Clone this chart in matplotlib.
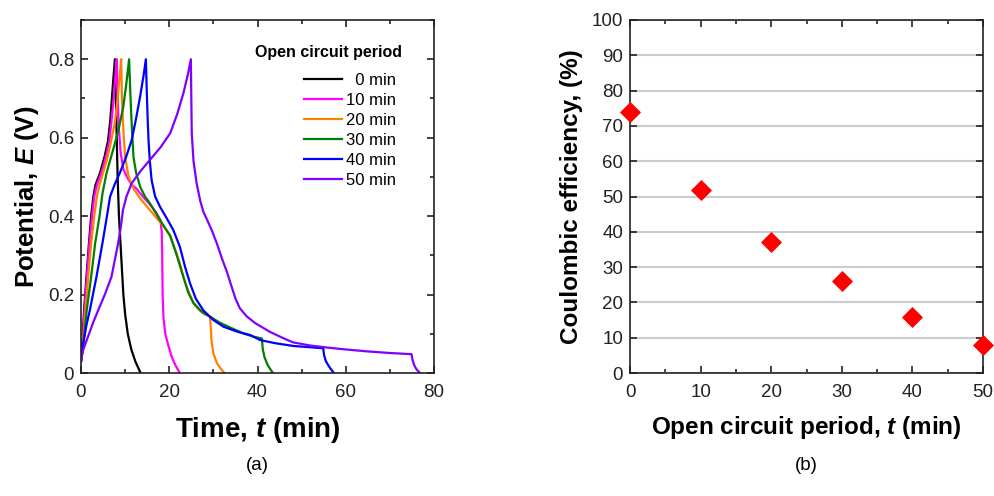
import numpy as np
import matplotlib
matplotlib.use('Agg')
import matplotlib.pyplot as plt
from matplotlib.ticker import MultipleLocator

plt.rcParams['font.family'] = ['Liberation Sans', 'DejaVu Sans']
plt.rcParams['mathtext.fontset'] = 'custom'
plt.rcParams['mathtext.it'] = 'Liberation Sans:italic:bold'
plt.rcParams['mathtext.rm'] = 'Liberation Sans:bold'

# ---- panel (a): potential vs time ----
labels = ['  0 min', '10 min', '20 min', '30 min', '40 min', '50 min']
colors = ['black', '#ff00ff', '#ff8000', '#008000', '#0000ff', '#8000ff']

t_0 = [0, 0.3, 0.7, 1.2, 1.8, 2.3, 2.8, 3.3, 4.3, 5.3, 6.1, 6.6, 7.0, 7.4, 7.7,
       7.9, 8.1, 8.3, 8.6, 9.1, 9.6, 10.0, 10.6, 11.4, 12.3, 13.5]
E_0 = [0.03, 0.08, 0.16, 0.24, 0.33, 0.40, 0.45, 0.48, 0.51, 0.55, 0.59, 0.64, 0.70, 0.76, 0.80,
       0.70, 0.60, 0.50, 0.40, 0.30, 0.20, 0.15, 0.10, 0.06, 0.03, 0.0]

t_10 = [0, 0.4, 0.8, 1.3, 1.9, 2.5, 3.0, 3.6, 4.6, 5.6, 6.4, 6.9, 7.4, 7.8, 8.1,
        8.3, 8.6, 9.0, 9.6, 10.4, 11.5, 12.6, 14.0, 15.6, 17.0, 18.0, 18.3, 18.4, 18.5,
        18.7, 19.1, 19.8, 20.6, 21.4, 22.4]
E_10 = [0.03, 0.08, 0.16, 0.24, 0.33, 0.40, 0.45, 0.48, 0.51, 0.55, 0.59, 0.64, 0.70, 0.76, 0.80,
        0.70, 0.62, 0.56, 0.52, 0.50, 0.48, 0.47, 0.45, 0.43, 0.41, 0.39, 0.36, 0.30, 0.20,
        0.14, 0.10, 0.07, 0.04, 0.02, 0.0]

t_20 = [0, 0.4, 0.9, 1.6, 2.3, 3.0, 3.6, 4.2, 5.0, 5.8, 6.8, 7.7, 8.3, 8.8, 9.1,
        9.3, 9.6, 10.0, 10.8, 11.9, 13.4, 14.9, 16.4, 17.9, 19.0, 20.2, 21.5, 22.4, 23.2,
        24.3, 25.5, 26.8, 28.0, 29.2, 29.4, 29.6, 30.0, 30.8, 31.6, 32.5]
E_20 = [0.03, 0.07, 0.14, 0.24, 0.33, 0.40, 0.45, 0.48, 0.51, 0.54, 0.59, 0.64, 0.70, 0.76, 0.80,
        0.70, 0.62, 0.55, 0.50, 0.47, 0.445, 0.425, 0.405, 0.385, 0.37, 0.35, 0.31, 0.28, 0.245,
        0.21, 0.178, 0.16, 0.15, 0.144, 0.12, 0.08, 0.05, 0.025, 0.012, 0.0]

t_30 = [0, 0.5, 1.3, 2.3, 3.2, 4.2, 4.9, 5.8, 7.3, 8.5, 9.6, 10.3, 10.9,
        11.1, 11.3, 11.6, 11.9, 12.5, 13.4, 14.5, 15.6, 17.9, 20.2, 21.7, 23.2, 24.3, 25.5,
        27.5, 29.2, 31.5, 34.0, 37.0, 39.0, 41.0, 41.2, 41.6, 42.3, 43.5]
E_30 = [0.03, 0.07, 0.16, 0.245, 0.33, 0.40, 0.46, 0.51, 0.57, 0.62, 0.68, 0.74, 0.80,
        0.74, 0.68, 0.61, 0.55, 0.51, 0.475, 0.45, 0.433, 0.39, 0.35, 0.30, 0.245, 0.205, 0.178,
        0.155, 0.144, 0.128, 0.115, 0.10, 0.093, 0.088, 0.06, 0.04, 0.02, 0.0]

t_40 = [0, 0.5, 1.2, 2.0, 3.5, 5.0, 6.1, 6.6, 7.6, 8.8, 10.2, 11.5, 12.5, 13.4, 14.2, 14.7,
        14.9, 15.1, 15.3, 15.6, 16.0, 16.8, 17.9, 19.4, 20.9, 22.4, 23.6, 24.7, 26.0, 27.7,
        30.0, 32.3, 35.5, 38.3, 40.6, 44.0, 48.1, 51.5, 54.9, 55.1, 55.5, 56.3, 57.3]
E_40 = [0.03, 0.075, 0.12, 0.16, 0.245, 0.34, 0.415, 0.45, 0.48, 0.51, 0.55, 0.594, 0.65, 0.705, 0.76, 0.80,
        0.72, 0.65, 0.594, 0.54, 0.492, 0.45, 0.424, 0.395, 0.365, 0.322, 0.27, 0.229, 0.19, 0.16,
        0.135, 0.118, 0.105, 0.097, 0.084, 0.076, 0.069, 0.066, 0.063, 0.045, 0.03, 0.015, 0.0]

t_50 = [0, 0.5, 1.5, 2.8, 3.9, 5.4, 6.9, 7.7, 8.4, 9.0, 9.5, 10.3, 11.5, 13.5, 15.6, 18.0,
        20.2, 21.8, 23.2, 24.2, 24.9,
        25.0, 25.1, 25.5, 26.2, 27.0, 27.7, 28.6, 29.6, 30.8, 32.0, 33.0, 34.0, 35.0, 36.0, 37.5,
        39.5, 42.8, 46.0, 48.1, 52.0, 55.7, 60.0, 65.0, 70.0, 74.9, 75.1, 75.5, 76.0, 76.8]
E_50 = [0.03, 0.059, 0.09, 0.13, 0.16, 0.20, 0.245, 0.29, 0.33, 0.37, 0.415, 0.45, 0.484, 0.515, 0.543, 0.575,
        0.611, 0.66, 0.713, 0.76, 0.80,
        0.70, 0.611, 0.54, 0.484, 0.44, 0.412, 0.39, 0.365, 0.33, 0.29, 0.26, 0.225, 0.19, 0.165, 0.145,
        0.127, 0.105, 0.088, 0.078, 0.070, 0.065, 0.060, 0.055, 0.051, 0.048, 0.035, 0.02, 0.01, 0.0]

times = [t_0, t_10, t_20, t_30, t_40, t_50]
potentials = [E_0, E_10, E_20, E_30, E_40, E_50]

# ---- panel (b): coulombic efficiency ----
period = [0, 10, 20, 30, 40, 50]
efficiency = [74.0, 51.7, 37.1, 26.0, 15.8, 7.8]

fig = plt.figure(figsize=(9.94, 4.96), dpi=100)
ax1 = fig.add_axes([81/994, 123/496, 353/994, 353/496])
ax2 = fig.add_axes([630/994, 123/496, 353/994, 353/496])

for t, E, c, lab in zip(times, potentials, colors, labels):
    ax1.plot(t, E, color=c, lw=1.6, label=lab)

ax1.set_xlim(0, 80)
ax1.set_ylim(0, 0.9)
ax1.xaxis.set_major_locator(MultipleLocator(20))
ax1.xaxis.set_minor_locator(MultipleLocator(10))
ax1.yaxis.set_minor_locator(MultipleLocator(0.1))
ax1.set_yticks([0, 0.2, 0.4, 0.6, 0.8])
ax1.set_yticklabels(['0', '0.2', '0.4', '0.6', '0.8'])
ax1.set_xlabel('Time, $t$ (min)', fontsize=20, fontweight='bold', labelpad=10)
ax1.set_ylabel('Potential, $E$ (V)', fontsize=18.5, fontweight='bold', labelpad=5)

# legend title drawn separately so the gap under it matches
ax1.text((402 - 81) / 353, (373 - 53) / 353, 'Open circuit period', transform=ax1.transAxes,
         ha='right', va='center', fontsize=11.5, fontweight='bold')
leg = ax1.legend(frameon=False, loc='upper right',
                 bbox_to_anchor=((399 - 81) / 353, (373 - 70) / 353), borderaxespad=0,
                 borderpad=0.2, fontsize=12, handlelength=2.3, labelspacing=0.3,
                 handletextpad=0.2)

ax2.scatter(period, efficiency, marker='D', s=115, color='red', zorder=3, clip_on=False,
            linewidths=0)
ax2.set_xlim(0, 50)
ax2.set_ylim(0, 100)
ax2.xaxis.set_major_locator(MultipleLocator(10))
ax2.xaxis.set_minor_locator(MultipleLocator(5))
ax2.yaxis.set_major_locator(MultipleLocator(10))
ax2.grid(axis='y', color='#cccccc', lw=1.5)
ax2.set_axisbelow(True)
ax2.set_xlabel('Open circuit period, $t$ (min)', fontsize=17.5, fontweight='bold', labelpad=9)
ax2.set_ylabel('Coulombic efficiency, (%)', fontsize=17.5, fontweight='bold', labelpad=6)

for ax in (ax1, ax2):
    ax.tick_params(which='both', direction='in', top=True, right=True, labelsize=13.5,
                   colors='#222222', width=1.2)
    ax.tick_params(which='major', length=5)
    ax.tick_params(which='minor', length=3)
    ax.tick_params(axis='x', which='major', pad=8)
    ax.tick_params(axis='y', which='major', pad=5)
    for s in ax.spines.values():
        s.set_linewidth(1.2)
        s.set_color('#222222')

fig.text(257/994, 1 - 465/496, '(a)', fontsize=13.5, ha='center', va='center')
fig.text(806/994, 1 - 465/496, '(b)', fontsize=13.5, ha='center', va='center')

fig.savefig('out.png', dpi=100)
